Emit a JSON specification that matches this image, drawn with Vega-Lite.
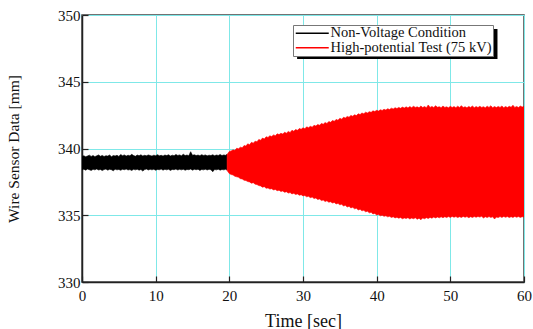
{
  "$schema": "https://vega.github.io/schema/vega-lite/v6.json",
  "width": 442,
  "height": 267,
  "autosize": {"type": "none"},
  "padding": {"left": 82, "top": 15, "right": 9, "bottom": 47},
  "background": "white",
  "config": {
    "font": "Liberation Serif",
    "view": {"stroke": "#444", "strokeWidth": 1.5},
    "legend": {"labelFont": "Liberation Serif", "labelLimit": 300},
    "axis": {
      "labelFont": "Liberation Serif",
      "titleFont": "Liberation Serif",
      "labelFontSize": 15,
      "titleFontSize": 17,
      "labelColor": "#111",
      "titleColor": "#111",
      "titleFontWeight": "normal",
      "gridColor": "#7fe8e8",
      "gridWidth": 1,
      "gridOpacity": 1,
      "domainColor": "#222",
      "domainWidth": 1.5,
      "tickColor": "#222",
      "tickWidth": 1.2,
      "tickSize": -6
    }
  },
  "layer": [
    {
      "data": {
        "values": [
          {"t": 0, "lo": 338.40, "hi": 339.40, "s": "Non-Voltage Condition"},
          {"t": 0.25, "lo": 338.45, "hi": 339.46, "s": "Non-Voltage Condition"},
          {"t": 0.5, "lo": 338.38, "hi": 339.38, "s": "Non-Voltage Condition"},
          {"t": 0.75, "lo": 338.46, "hi": 339.44, "s": "Non-Voltage Condition"},
          {"t": 1, "lo": 338.41, "hi": 339.50, "s": "Non-Voltage Condition"},
          {"t": 1.25, "lo": 338.36, "hi": 339.41, "s": "Non-Voltage Condition"},
          {"t": 1.5, "lo": 338.44, "hi": 339.47, "s": "Non-Voltage Condition"},
          {"t": 1.75, "lo": 338.40, "hi": 339.39, "s": "Non-Voltage Condition"},
          {"t": 2, "lo": 338.47, "hi": 339.45, "s": "Non-Voltage Condition"},
          {"t": 2.25, "lo": 338.39, "hi": 339.52, "s": "Non-Voltage Condition"},
          {"t": 2.5, "lo": 338.43, "hi": 339.42, "s": "Non-Voltage Condition"},
          {"t": 2.75, "lo": 338.35, "hi": 339.48, "s": "Non-Voltage Condition"},
          {"t": 3, "lo": 338.42, "hi": 339.40, "s": "Non-Voltage Condition"},
          {"t": 3.25, "lo": 338.46, "hi": 339.46, "s": "Non-Voltage Condition"},
          {"t": 3.5, "lo": 338.38, "hi": 339.43, "s": "Non-Voltage Condition"},
          {"t": 3.75, "lo": 338.44, "hi": 339.51, "s": "Non-Voltage Condition"},
          {"t": 4, "lo": 338.41, "hi": 339.39, "s": "Non-Voltage Condition"},
          {"t": 4.25, "lo": 338.33, "hi": 339.47, "s": "Non-Voltage Condition"},
          {"t": 4.5, "lo": 338.45, "hi": 339.44, "s": "Non-Voltage Condition"},
          {"t": 4.75, "lo": 338.40, "hi": 339.49, "s": "Non-Voltage Condition"},
          {"t": 5, "lo": 338.43, "hi": 339.41, "s": "Non-Voltage Condition"},
          {"t": 5.25, "lo": 338.37, "hi": 339.55, "s": "Non-Voltage Condition"},
          {"t": 5.5, "lo": 338.44, "hi": 339.46, "s": "Non-Voltage Condition"},
          {"t": 5.75, "lo": 338.41, "hi": 339.52, "s": "Non-Voltage Condition"},
          {"t": 6, "lo": 338.46, "hi": 339.43, "s": "Non-Voltage Condition"},
          {"t": 6.25, "lo": 338.39, "hi": 339.50, "s": "Non-Voltage Condition"},
          {"t": 6.5, "lo": 338.42, "hi": 339.45, "s": "Non-Voltage Condition"},
          {"t": 6.75, "lo": 338.36, "hi": 339.56, "s": "Non-Voltage Condition"},
          {"t": 7, "lo": 338.44, "hi": 339.47, "s": "Non-Voltage Condition"},
          {"t": 7.25, "lo": 338.40, "hi": 339.42, "s": "Non-Voltage Condition"},
          {"t": 7.5, "lo": 338.45, "hi": 339.51, "s": "Non-Voltage Condition"},
          {"t": 7.75, "lo": 338.38, "hi": 339.46, "s": "Non-Voltage Condition"},
          {"t": 8, "lo": 338.43, "hi": 339.53, "s": "Non-Voltage Condition"},
          {"t": 8.25, "lo": 338.31, "hi": 339.44, "s": "Non-Voltage Condition"},
          {"t": 8.5, "lo": 338.42, "hi": 339.49, "s": "Non-Voltage Condition"},
          {"t": 8.75, "lo": 338.46, "hi": 339.45, "s": "Non-Voltage Condition"},
          {"t": 9, "lo": 338.39, "hi": 339.52, "s": "Non-Voltage Condition"},
          {"t": 9.25, "lo": 338.44, "hi": 339.47, "s": "Non-Voltage Condition"},
          {"t": 9.5, "lo": 338.40, "hi": 339.43, "s": "Non-Voltage Condition"},
          {"t": 9.75, "lo": 338.45, "hi": 339.50, "s": "Non-Voltage Condition"},
          {"t": 10, "lo": 338.37, "hi": 339.46, "s": "Non-Voltage Condition"},
          {"t": 10.25, "lo": 338.43, "hi": 339.54, "s": "Non-Voltage Condition"},
          {"t": 10.5, "lo": 338.41, "hi": 339.45, "s": "Non-Voltage Condition"},
          {"t": 10.75, "lo": 338.46, "hi": 339.49, "s": "Non-Voltage Condition"},
          {"t": 11, "lo": 338.38, "hi": 339.43, "s": "Non-Voltage Condition"},
          {"t": 11.25, "lo": 338.44, "hi": 339.51, "s": "Non-Voltage Condition"},
          {"t": 11.5, "lo": 338.40, "hi": 339.47, "s": "Non-Voltage Condition"},
          {"t": 11.75, "lo": 338.45, "hi": 339.53, "s": "Non-Voltage Condition"},
          {"t": 12, "lo": 338.36, "hi": 339.44, "s": "Non-Voltage Condition"},
          {"t": 12.25, "lo": 338.43, "hi": 339.50, "s": "Non-Voltage Condition"},
          {"t": 12.5, "lo": 338.41, "hi": 339.46, "s": "Non-Voltage Condition"},
          {"t": 12.75, "lo": 338.46, "hi": 339.55, "s": "Non-Voltage Condition"},
          {"t": 13, "lo": 338.39, "hi": 339.48, "s": "Non-Voltage Condition"},
          {"t": 13.25, "lo": 338.44, "hi": 339.52, "s": "Non-Voltage Condition"},
          {"t": 13.5, "lo": 338.40, "hi": 339.45, "s": "Non-Voltage Condition"},
          {"t": 13.75, "lo": 338.45, "hi": 339.57, "s": "Non-Voltage Condition"},
          {"t": 14, "lo": 338.37, "hi": 339.47, "s": "Non-Voltage Condition"},
          {"t": 14.25, "lo": 338.43, "hi": 339.51, "s": "Non-Voltage Condition"},
          {"t": 14.5, "lo": 338.41, "hi": 339.46, "s": "Non-Voltage Condition"},
          {"t": 14.75, "lo": 338.46, "hi": 339.76, "s": "Non-Voltage Condition"},
          {"t": 15, "lo": 338.38, "hi": 339.49, "s": "Non-Voltage Condition"},
          {"t": 15.25, "lo": 338.44, "hi": 339.53, "s": "Non-Voltage Condition"},
          {"t": 15.5, "lo": 338.41, "hi": 339.47, "s": "Non-Voltage Condition"},
          {"t": 15.75, "lo": 338.45, "hi": 339.51, "s": "Non-Voltage Condition"},
          {"t": 16, "lo": 338.36, "hi": 339.46, "s": "Non-Voltage Condition"},
          {"t": 16.25, "lo": 338.43, "hi": 339.54, "s": "Non-Voltage Condition"},
          {"t": 16.5, "lo": 338.40, "hi": 339.48, "s": "Non-Voltage Condition"},
          {"t": 16.75, "lo": 338.45, "hi": 339.52, "s": "Non-Voltage Condition"},
          {"t": 17, "lo": 338.39, "hi": 339.45, "s": "Non-Voltage Condition"},
          {"t": 17.25, "lo": 338.44, "hi": 339.50, "s": "Non-Voltage Condition"},
          {"t": 17.5, "lo": 338.41, "hi": 339.47, "s": "Non-Voltage Condition"},
          {"t": 17.75, "lo": 338.26, "hi": 339.53, "s": "Non-Voltage Condition"},
          {"t": 18, "lo": 338.43, "hi": 339.46, "s": "Non-Voltage Condition"},
          {"t": 18.25, "lo": 338.40, "hi": 339.51, "s": "Non-Voltage Condition"},
          {"t": 18.5, "lo": 338.45, "hi": 339.48, "s": "Non-Voltage Condition"},
          {"t": 18.75, "lo": 338.38, "hi": 339.55, "s": "Non-Voltage Condition"},
          {"t": 19, "lo": 338.43, "hi": 339.47, "s": "Non-Voltage Condition"},
          {"t": 19.25, "lo": 338.40, "hi": 339.52, "s": "Non-Voltage Condition"},
          {"t": 19.5, "lo": 338.44, "hi": 339.49, "s": "Non-Voltage Condition"},
          {"t": 19.7, "lo": 338.39, "hi": 339.56, "s": "Non-Voltage Condition"},
          {"t": 19.7, "lo": 338.35, "hi": 339.55, "s": "High-potential Test (75 kV)"},
          {"t": 20, "lo": 338.12, "hi": 339.78, "s": "High-potential Test (75 kV)"},
          {"t": 20.25, "lo": 338.05, "hi": 339.82, "s": "High-potential Test (75 kV)"},
          {"t": 20.5, "lo": 338.02, "hi": 339.90, "s": "High-potential Test (75 kV)"},
          {"t": 20.75, "lo": 337.92, "hi": 339.86, "s": "High-potential Test (75 kV)"},
          {"t": 21, "lo": 337.88, "hi": 340.02, "s": "High-potential Test (75 kV)"},
          {"t": 21.25, "lo": 337.85, "hi": 339.98, "s": "High-potential Test (75 kV)"},
          {"t": 21.5, "lo": 337.74, "hi": 340.10, "s": "High-potential Test (75 kV)"},
          {"t": 21.75, "lo": 337.72, "hi": 340.05, "s": "High-potential Test (75 kV)"},
          {"t": 22, "lo": 337.62, "hi": 340.22, "s": "High-potential Test (75 kV)"},
          {"t": 22.25, "lo": 337.60, "hi": 340.18, "s": "High-potential Test (75 kV)"},
          {"t": 22.5, "lo": 337.52, "hi": 340.35, "s": "High-potential Test (75 kV)"},
          {"t": 22.75, "lo": 337.50, "hi": 340.28, "s": "High-potential Test (75 kV)"},
          {"t": 23, "lo": 337.40, "hi": 340.46, "s": "High-potential Test (75 kV)"},
          {"t": 23.25, "lo": 337.44, "hi": 340.40, "s": "High-potential Test (75 kV)"},
          {"t": 23.5, "lo": 337.33, "hi": 340.55, "s": "High-potential Test (75 kV)"},
          {"t": 23.75, "lo": 337.30, "hi": 340.50, "s": "High-potential Test (75 kV)"},
          {"t": 24, "lo": 337.22, "hi": 340.68, "s": "High-potential Test (75 kV)"},
          {"t": 24.25, "lo": 337.20, "hi": 340.62, "s": "High-potential Test (75 kV)"},
          {"t": 24.5, "lo": 337.10, "hi": 340.78, "s": "High-potential Test (75 kV)"},
          {"t": 24.75, "lo": 337.14, "hi": 340.72, "s": "High-potential Test (75 kV)"},
          {"t": 25, "lo": 337.02, "hi": 340.88, "s": "High-potential Test (75 kV)"},
          {"t": 25.25, "lo": 337.05, "hi": 340.83, "s": "High-potential Test (75 kV)"},
          {"t": 25.5, "lo": 336.96, "hi": 340.95, "s": "High-potential Test (75 kV)"},
          {"t": 25.75, "lo": 336.99, "hi": 340.90, "s": "High-potential Test (75 kV)"},
          {"t": 26, "lo": 336.90, "hi": 341.02, "s": "High-potential Test (75 kV)"},
          {"t": 26.25, "lo": 336.93, "hi": 340.96, "s": "High-potential Test (75 kV)"},
          {"t": 26.5, "lo": 336.84, "hi": 341.10, "s": "High-potential Test (75 kV)"},
          {"t": 26.75, "lo": 336.88, "hi": 341.04, "s": "High-potential Test (75 kV)"},
          {"t": 27, "lo": 336.78, "hi": 341.14, "s": "High-potential Test (75 kV)"},
          {"t": 27.25, "lo": 336.82, "hi": 341.08, "s": "High-potential Test (75 kV)"},
          {"t": 27.5, "lo": 336.72, "hi": 341.22, "s": "High-potential Test (75 kV)"},
          {"t": 27.75, "lo": 336.76, "hi": 341.15, "s": "High-potential Test (75 kV)"},
          {"t": 28, "lo": 336.66, "hi": 341.28, "s": "High-potential Test (75 kV)"},
          {"t": 28.25, "lo": 336.70, "hi": 341.20, "s": "High-potential Test (75 kV)"},
          {"t": 28.5, "lo": 336.60, "hi": 341.36, "s": "High-potential Test (75 kV)"},
          {"t": 28.75, "lo": 336.64, "hi": 341.30, "s": "High-potential Test (75 kV)"},
          {"t": 29, "lo": 336.56, "hi": 341.42, "s": "High-potential Test (75 kV)"},
          {"t": 29.25, "lo": 336.60, "hi": 341.36, "s": "High-potential Test (75 kV)"},
          {"t": 29.5, "lo": 336.50, "hi": 341.50, "s": "High-potential Test (75 kV)"},
          {"t": 29.75, "lo": 336.54, "hi": 341.44, "s": "High-potential Test (75 kV)"},
          {"t": 30, "lo": 336.45, "hi": 341.55, "s": "High-potential Test (75 kV)"},
          {"t": 30.25, "lo": 336.48, "hi": 341.48, "s": "High-potential Test (75 kV)"},
          {"t": 30.5, "lo": 336.38, "hi": 341.62, "s": "High-potential Test (75 kV)"},
          {"t": 30.75, "lo": 336.42, "hi": 341.56, "s": "High-potential Test (75 kV)"},
          {"t": 31, "lo": 336.32, "hi": 341.66, "s": "High-potential Test (75 kV)"},
          {"t": 31.25, "lo": 336.36, "hi": 341.60, "s": "High-potential Test (75 kV)"},
          {"t": 31.5, "lo": 336.25, "hi": 341.74, "s": "High-potential Test (75 kV)"},
          {"t": 31.75, "lo": 336.29, "hi": 341.68, "s": "High-potential Test (75 kV)"},
          {"t": 32, "lo": 336.18, "hi": 341.80, "s": "High-potential Test (75 kV)"},
          {"t": 32.25, "lo": 336.22, "hi": 341.74, "s": "High-potential Test (75 kV)"},
          {"t": 32.5, "lo": 336.10, "hi": 341.88, "s": "High-potential Test (75 kV)"},
          {"t": 32.75, "lo": 336.14, "hi": 341.82, "s": "High-potential Test (75 kV)"},
          {"t": 33, "lo": 336.03, "hi": 341.94, "s": "High-potential Test (75 kV)"},
          {"t": 33.25, "lo": 336.08, "hi": 341.88, "s": "High-potential Test (75 kV)"},
          {"t": 33.5, "lo": 335.98, "hi": 342.02, "s": "High-potential Test (75 kV)"},
          {"t": 33.75, "lo": 336.01, "hi": 341.96, "s": "High-potential Test (75 kV)"},
          {"t": 34, "lo": 335.92, "hi": 342.10, "s": "High-potential Test (75 kV)"},
          {"t": 34.25, "lo": 335.96, "hi": 342.04, "s": "High-potential Test (75 kV)"},
          {"t": 34.5, "lo": 335.85, "hi": 342.18, "s": "High-potential Test (75 kV)"},
          {"t": 34.75, "lo": 335.89, "hi": 342.12, "s": "High-potential Test (75 kV)"},
          {"t": 35, "lo": 335.78, "hi": 342.26, "s": "High-potential Test (75 kV)"},
          {"t": 35.25, "lo": 335.82, "hi": 342.20, "s": "High-potential Test (75 kV)"},
          {"t": 35.5, "lo": 335.70, "hi": 342.34, "s": "High-potential Test (75 kV)"},
          {"t": 35.75, "lo": 335.74, "hi": 342.28, "s": "High-potential Test (75 kV)"},
          {"t": 36, "lo": 335.62, "hi": 342.40, "s": "High-potential Test (75 kV)"},
          {"t": 36.25, "lo": 335.67, "hi": 342.35, "s": "High-potential Test (75 kV)"},
          {"t": 36.5, "lo": 335.55, "hi": 342.48, "s": "High-potential Test (75 kV)"},
          {"t": 36.75, "lo": 335.60, "hi": 342.42, "s": "High-potential Test (75 kV)"},
          {"t": 37, "lo": 335.48, "hi": 342.52, "s": "High-potential Test (75 kV)"},
          {"t": 37.25, "lo": 335.52, "hi": 342.47, "s": "High-potential Test (75 kV)"},
          {"t": 37.5, "lo": 335.40, "hi": 342.60, "s": "High-potential Test (75 kV)"},
          {"t": 37.75, "lo": 335.45, "hi": 342.54, "s": "High-potential Test (75 kV)"},
          {"t": 38, "lo": 335.33, "hi": 342.66, "s": "High-potential Test (75 kV)"},
          {"t": 38.25, "lo": 335.37, "hi": 342.60, "s": "High-potential Test (75 kV)"},
          {"t": 38.5, "lo": 335.26, "hi": 342.72, "s": "High-potential Test (75 kV)"},
          {"t": 38.75, "lo": 335.30, "hi": 342.66, "s": "High-potential Test (75 kV)"},
          {"t": 39, "lo": 335.18, "hi": 342.76, "s": "High-potential Test (75 kV)"},
          {"t": 39.25, "lo": 335.22, "hi": 342.71, "s": "High-potential Test (75 kV)"},
          {"t": 39.5, "lo": 335.10, "hi": 342.82, "s": "High-potential Test (75 kV)"},
          {"t": 39.75, "lo": 335.14, "hi": 342.77, "s": "High-potential Test (75 kV)"},
          {"t": 40, "lo": 335.02, "hi": 342.86, "s": "High-potential Test (75 kV)"},
          {"t": 40.25, "lo": 335.06, "hi": 342.80, "s": "High-potential Test (75 kV)"},
          {"t": 40.5, "lo": 334.96, "hi": 342.90, "s": "High-potential Test (75 kV)"},
          {"t": 40.75, "lo": 335.00, "hi": 342.85, "s": "High-potential Test (75 kV)"},
          {"t": 41, "lo": 334.92, "hi": 342.94, "s": "High-potential Test (75 kV)"},
          {"t": 41.25, "lo": 334.96, "hi": 342.88, "s": "High-potential Test (75 kV)"},
          {"t": 41.5, "lo": 334.88, "hi": 342.98, "s": "High-potential Test (75 kV)"},
          {"t": 41.75, "lo": 334.92, "hi": 342.92, "s": "High-potential Test (75 kV)"},
          {"t": 42, "lo": 334.84, "hi": 343.02, "s": "High-potential Test (75 kV)"},
          {"t": 42.25, "lo": 334.88, "hi": 342.96, "s": "High-potential Test (75 kV)"},
          {"t": 42.5, "lo": 334.80, "hi": 343.06, "s": "High-potential Test (75 kV)"},
          {"t": 42.75, "lo": 334.85, "hi": 342.99, "s": "High-potential Test (75 kV)"},
          {"t": 43, "lo": 334.78, "hi": 343.08, "s": "High-potential Test (75 kV)"},
          {"t": 43.25, "lo": 334.83, "hi": 343.01, "s": "High-potential Test (75 kV)"},
          {"t": 43.5, "lo": 334.74, "hi": 343.10, "s": "High-potential Test (75 kV)"},
          {"t": 43.75, "lo": 334.80, "hi": 343.03, "s": "High-potential Test (75 kV)"},
          {"t": 44, "lo": 334.76, "hi": 343.12, "s": "High-potential Test (75 kV)"},
          {"t": 44.25, "lo": 334.82, "hi": 343.04, "s": "High-potential Test (75 kV)"},
          {"t": 44.5, "lo": 334.72, "hi": 343.14, "s": "High-potential Test (75 kV)"},
          {"t": 44.75, "lo": 334.79, "hi": 343.06, "s": "High-potential Test (75 kV)"},
          {"t": 45, "lo": 334.74, "hi": 343.16, "s": "High-potential Test (75 kV)"},
          {"t": 45.25, "lo": 334.81, "hi": 343.08, "s": "High-potential Test (75 kV)"},
          {"t": 45.5, "lo": 334.70, "hi": 343.12, "s": "High-potential Test (75 kV)"},
          {"t": 45.75, "lo": 334.78, "hi": 343.05, "s": "High-potential Test (75 kV)"},
          {"t": 46, "lo": 334.66, "hi": 343.18, "s": "High-potential Test (75 kV)"},
          {"t": 46.25, "lo": 334.80, "hi": 343.07, "s": "High-potential Test (75 kV)"},
          {"t": 46.5, "lo": 334.74, "hi": 343.14, "s": "High-potential Test (75 kV)"},
          {"t": 46.75, "lo": 334.82, "hi": 343.06, "s": "High-potential Test (75 kV)"},
          {"t": 47, "lo": 334.76, "hi": 343.26, "s": "High-potential Test (75 kV)"},
          {"t": 47.25, "lo": 334.84, "hi": 343.08, "s": "High-potential Test (75 kV)"},
          {"t": 47.5, "lo": 334.78, "hi": 343.15, "s": "High-potential Test (75 kV)"},
          {"t": 47.75, "lo": 334.86, "hi": 343.07, "s": "High-potential Test (75 kV)"},
          {"t": 48, "lo": 334.80, "hi": 343.20, "s": "High-potential Test (75 kV)"},
          {"t": 48.25, "lo": 334.87, "hi": 343.09, "s": "High-potential Test (75 kV)"},
          {"t": 48.5, "lo": 334.81, "hi": 343.13, "s": "High-potential Test (75 kV)"},
          {"t": 48.75, "lo": 334.88, "hi": 343.06, "s": "High-potential Test (75 kV)"},
          {"t": 49, "lo": 334.82, "hi": 343.18, "s": "High-potential Test (75 kV)"},
          {"t": 49.25, "lo": 334.89, "hi": 343.08, "s": "High-potential Test (75 kV)"},
          {"t": 49.5, "lo": 334.83, "hi": 343.12, "s": "High-potential Test (75 kV)"},
          {"t": 49.75, "lo": 334.90, "hi": 343.05, "s": "High-potential Test (75 kV)"},
          {"t": 50, "lo": 334.84, "hi": 343.16, "s": "High-potential Test (75 kV)"},
          {"t": 50.25, "lo": 334.91, "hi": 343.07, "s": "High-potential Test (75 kV)"},
          {"t": 50.5, "lo": 334.85, "hi": 343.14, "s": "High-potential Test (75 kV)"},
          {"t": 50.75, "lo": 334.90, "hi": 343.06, "s": "High-potential Test (75 kV)"},
          {"t": 51, "lo": 334.83, "hi": 343.17, "s": "High-potential Test (75 kV)"},
          {"t": 51.25, "lo": 334.89, "hi": 343.08, "s": "High-potential Test (75 kV)"},
          {"t": 51.5, "lo": 334.84, "hi": 343.21, "s": "High-potential Test (75 kV)"},
          {"t": 51.75, "lo": 334.91, "hi": 343.07, "s": "High-potential Test (75 kV)"},
          {"t": 52, "lo": 334.85, "hi": 343.13, "s": "High-potential Test (75 kV)"},
          {"t": 52.25, "lo": 334.90, "hi": 343.05, "s": "High-potential Test (75 kV)"},
          {"t": 52.5, "lo": 334.82, "hi": 343.15, "s": "High-potential Test (75 kV)"},
          {"t": 52.75, "lo": 334.89, "hi": 343.08, "s": "High-potential Test (75 kV)"},
          {"t": 53, "lo": 334.84, "hi": 343.18, "s": "High-potential Test (75 kV)"},
          {"t": 53.25, "lo": 334.90, "hi": 343.06, "s": "High-potential Test (75 kV)"},
          {"t": 53.5, "lo": 334.85, "hi": 343.14, "s": "High-potential Test (75 kV)"},
          {"t": 53.75, "lo": 334.91, "hi": 343.07, "s": "High-potential Test (75 kV)"},
          {"t": 54, "lo": 334.86, "hi": 343.16, "s": "High-potential Test (75 kV)"},
          {"t": 54.25, "lo": 334.92, "hi": 343.08, "s": "High-potential Test (75 kV)"},
          {"t": 54.5, "lo": 334.80, "hi": 343.13, "s": "High-potential Test (75 kV)"},
          {"t": 54.75, "lo": 334.89, "hi": 343.05, "s": "High-potential Test (75 kV)"},
          {"t": 55, "lo": 334.83, "hi": 343.17, "s": "High-potential Test (75 kV)"},
          {"t": 55.25, "lo": 334.90, "hi": 343.08, "s": "High-potential Test (75 kV)"},
          {"t": 55.5, "lo": 334.84, "hi": 343.20, "s": "High-potential Test (75 kV)"},
          {"t": 55.75, "lo": 334.88, "hi": 343.06, "s": "High-potential Test (75 kV)"},
          {"t": 56, "lo": 334.72, "hi": 343.14, "s": "High-potential Test (75 kV)"},
          {"t": 56.25, "lo": 334.86, "hi": 343.07, "s": "High-potential Test (75 kV)"},
          {"t": 56.5, "lo": 334.83, "hi": 343.15, "s": "High-potential Test (75 kV)"},
          {"t": 56.75, "lo": 334.90, "hi": 343.08, "s": "High-potential Test (75 kV)"},
          {"t": 57, "lo": 334.84, "hi": 343.18, "s": "High-potential Test (75 kV)"},
          {"t": 57.25, "lo": 334.91, "hi": 343.06, "s": "High-potential Test (75 kV)"},
          {"t": 57.5, "lo": 334.85, "hi": 343.14, "s": "High-potential Test (75 kV)"},
          {"t": 57.75, "lo": 334.90, "hi": 343.07, "s": "High-potential Test (75 kV)"},
          {"t": 58, "lo": 334.83, "hi": 343.16, "s": "High-potential Test (75 kV)"},
          {"t": 58.25, "lo": 334.89, "hi": 343.09, "s": "High-potential Test (75 kV)"},
          {"t": 58.5, "lo": 334.84, "hi": 343.24, "s": "High-potential Test (75 kV)"},
          {"t": 58.75, "lo": 334.91, "hi": 343.08, "s": "High-potential Test (75 kV)"},
          {"t": 59, "lo": 334.85, "hi": 343.15, "s": "High-potential Test (75 kV)"},
          {"t": 59.25, "lo": 334.90, "hi": 343.07, "s": "High-potential Test (75 kV)"},
          {"t": 59.5, "lo": 334.84, "hi": 343.18, "s": "High-potential Test (75 kV)"},
          {"t": 59.75, "lo": 334.89, "hi": 343.10, "s": "High-potential Test (75 kV)"},
          {"t": 60, "lo": 334.86, "hi": 343.16, "s": "High-potential Test (75 kV)"}
        ]
      },
      "mark": {"type": "area", "interpolate": "linear", "strokeWidth": 0.6, "clip": true},
      "encoding": {
        "x": {
          "field": "t", "type": "quantitative",
          "scale": {"domain": [0, 60], "nice": false},
          "axis": {
            "title": "Time [sec]",
            "titleFontSize": 18,
            "values": [0, 5, 10, 15, 20, 25, 30, 35, 40, 45, 50, 55, 60],
            "labelExpr": "datum.value % 10 === 0 ? datum.label : ''",
            "labelPadding": 12,
            "titlePadding": 9,
            "labelFlush": false
          }
        },
        "y": {
          "field": "lo", "type": "quantitative",
          "scale": {"domain": [330, 350], "nice": false, "zero": false},
          "axis": {
            "title": "Wire Sensor Data [mm]",
            "titleFontSize": 15.5,
            "values": [330, 332.5, 335, 337.5, 340, 342.5, 345, 347.5, 350],
            "labelExpr": "datum.value % 5 === 0 ? format(datum.value, 'd') : ''",
            "labelPadding": 8,
            "titlePadding": 36,
            "labelFlush": false
          }
        },
        "y2": {"field": "hi"},
        "fill": {
          "field": "s", "type": "nominal",
          "scale": {"domain": ["Non-Voltage Condition", "High-potential Test (75 kV)"], "range": ["#000000", "#ff0000"]},
          "legend": {
            "title": null,
            "orient": "none",
            "legendX": 211,
            "legendY": 10,
            "fillColor": "white",
            "strokeColor": "#777",
            "padding": 1,
            "symbolType": "M-2.75,0H2.75",
            "symbolSize": 144,
            "symbolOffset": 11,
            "symbolStrokeWidth": 1.5,
            "labelFont": "Liberation Serif",
            "labelFontSize": 14.5,
            "labelLimit": 300,
            "labelAlign": "left",
            "labelColor": "#111",
            "labelOffset": 11,
            "rowPadding": -0.5
          }
        },
        "stroke": {
          "field": "s", "type": "nominal",
          "scale": {"domain": ["Non-Voltage Condition", "High-potential Test (75 kV)"], "range": ["#000000", "#ff0000"]},
          "legend": {
            "title": null,
            "orient": "none",
            "legendX": 211,
            "legendY": 10,
            "fillColor": "white",
            "strokeColor": "#777",
            "padding": 1,
            "symbolType": "M-2.75,0H2.75",
            "symbolSize": 144,
            "symbolOffset": 11,
            "symbolStrokeWidth": 1.5,
            "labelFont": "Liberation Serif",
            "labelFontSize": 14.5,
            "labelLimit": 300,
            "labelAlign": "left",
            "labelColor": "#111",
            "labelOffset": 11,
            "rowPadding": -0.5
          }
        }
      }
    },
    {
      "data": {"values": [{"x1": 29.2, "x2": 56.4, "y1": 348.95, "y2": 346.7}]},
      "mark": {"type": "rect", "color": "black"},
      "encoding": {
        "x": {"field": "x1", "type": "quantitative"},
        "x2": {"field": "x2"},
        "y": {"field": "y1", "type": "quantitative"},
        "y2": {"field": "y2"}
      }
    }
  ]
}
